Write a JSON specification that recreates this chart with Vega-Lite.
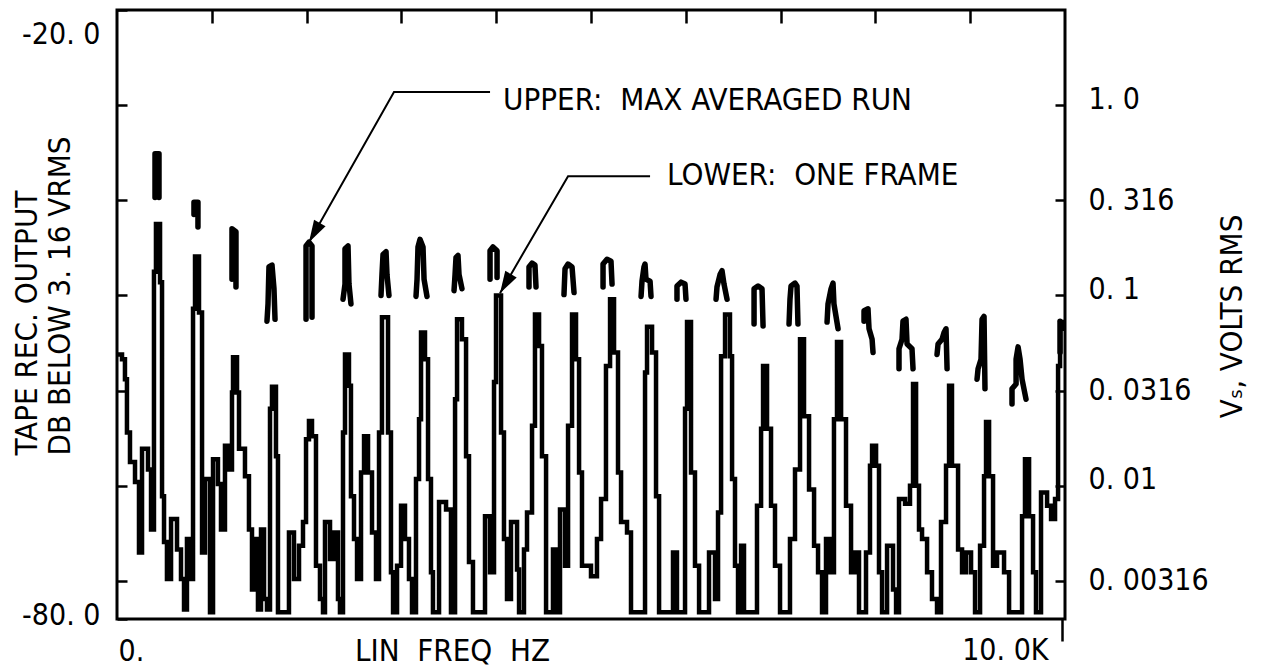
{
  "$schema": "https://vega.github.io/schema/vega-lite/v6.json",
  "width": 948,
  "height": 609,
  "autosize": {"type": "none"},
  "padding": {"left": 117, "top": 10, "right": 205, "bottom": 50},
  "background": "white",
  "config": {
    "font": "DejaVu Sans Condensed, DejaVu Sans",
    "view": {"stroke": "black", "strokeWidth": 3},
    "axis": {
      "labelFont": "DejaVu Sans Condensed, DejaVu Sans",
      "titleFont": "DejaVu Sans Condensed, DejaVu Sans",
      "labelFontSize": 30,
      "titleFontSize": 31,
      "titleFontWeight": "normal",
      "labelColor": "black",
      "titleColor": "black",
      "tickColor": "black",
      "grid": false,
      "domain": false,
      "labelFlush": false,
      "labelOverlap": false,
      "labelBound": false
    }
  },
  "datasets": {
    "oneFrame": [
      {"f": 0, "db": -26.2}, {"f": 53, "db": -26.7}, {"f": 84, "db": -28.8}, {"f": 105, "db": -34.4},
      {"f": 137, "db": -37.5}, {"f": 190, "db": -39.6}, {"f": 232, "db": -47.0}, {"f": 264, "db": -36.1},
      {"f": 327, "db": -38.3}, {"f": 359, "db": -44.6}, {"f": 390, "db": -17.5}, {"f": 411, "db": -12.5},
      {"f": 454, "db": -18.6}, {"f": 475, "db": -41.1}, {"f": 496, "db": -45.9}, {"f": 527, "db": -49.8},
      {"f": 570, "db": -43.5}, {"f": 633, "db": -46.7}, {"f": 675, "db": -49.8}, {"f": 707, "db": -53.0},
      {"f": 738, "db": -45.6}, {"f": 781, "db": -49.8}, {"f": 802, "db": -21.4}, {"f": 823, "db": -15.9},
      {"f": 865, "db": -21.8}, {"f": 897, "db": -47.0}, {"f": 928, "db": -39.3}, {"f": 981, "db": -53.3},
      {"f": 1013, "db": -37.2}, {"f": 1065, "db": -39.8}, {"f": 1097, "db": -44.6}, {"f": 1139, "db": -35.8},
      {"f": 1181, "db": -38.3}, {"f": 1213, "db": -30.2}, {"f": 1224, "db": -26.5}, {"f": 1266, "db": -30.2},
      {"f": 1287, "db": -36.1}, {"f": 1350, "db": -39.0}, {"f": 1392, "db": -44.6}, {"f": 1424, "db": -50.9},
      {"f": 1456, "db": -45.6}, {"f": 1487, "db": -53.0}, {"f": 1519, "db": -44.6}, {"f": 1551, "db": -51.9},
      {"f": 1582, "db": -53.0}, {"f": 1614, "db": -31.9}, {"f": 1635, "db": -29.6}, {"f": 1677, "db": -36.9},
      {"f": 1698, "db": -53.3}, {"f": 1814, "db": -44.9}, {"f": 1867, "db": -49.8}, {"f": 1920, "db": -46.3},
      {"f": 1962, "db": -43.8}, {"f": 1994, "db": -35.1}, {"f": 2025, "db": -33.2}, {"f": 2057, "db": -34.8},
      {"f": 2099, "db": -48.4}, {"f": 2141, "db": -51.9}, {"f": 2173, "db": -53.3}, {"f": 2194, "db": -43.8},
      {"f": 2247, "db": -47.7}, {"f": 2289, "db": -44.9}, {"f": 2331, "db": -51.9}, {"f": 2352, "db": -53.3},
      {"f": 2384, "db": -34.4}, {"f": 2405, "db": -26.2}, {"f": 2447, "db": -29.5}, {"f": 2468, "db": -41.1},
      {"f": 2500, "db": -45.6}, {"f": 2532, "db": -49.8}, {"f": 2574, "db": -38.6}, {"f": 2606, "db": -34.8},
      {"f": 2648, "db": -38.6}, {"f": 2690, "db": -44.9}, {"f": 2732, "db": -49.8}, {"f": 2764, "db": -34.4},
      {"f": 2795, "db": -22.3}, {"f": 2859, "db": -34.4}, {"f": 2890, "db": -49.1}, {"f": 2912, "db": -53.3},
      {"f": 2954, "db": -48.4}, {"f": 2996, "db": -42.1}, {"f": 3038, "db": -45.6}, {"f": 3080, "db": -49.8},
      {"f": 3112, "db": -53.3}, {"f": 3154, "db": -39.3}, {"f": 3186, "db": -33.0}, {"f": 3207, "db": -23.9},
      {"f": 3249, "db": -26.7}, {"f": 3281, "db": -39.3}, {"f": 3312, "db": -49.1}, {"f": 3333, "db": -53.3},
      {"f": 3397, "db": -41.7}, {"f": 3471, "db": -42.5}, {"f": 3523, "db": -53.3}, {"f": 3566, "db": -30.9},
      {"f": 3587, "db": -22.5}, {"f": 3639, "db": -24.6}, {"f": 3682, "db": -36.9}, {"f": 3713, "db": -48.0},
      {"f": 3755, "db": -53.3}, {"f": 3882, "db": -43.2}, {"f": 3935, "db": -49.1}, {"f": 3977, "db": -29.1},
      {"f": 3998, "db": -20.0}, {"f": 4051, "db": -34.4}, {"f": 4082, "db": -45.6}, {"f": 4114, "db": -51.9},
      {"f": 4156, "db": -43.8}, {"f": 4220, "db": -48.8}, {"f": 4241, "db": -53.3}, {"f": 4293, "db": -46.7},
      {"f": 4325, "db": -42.8}, {"f": 4378, "db": -33.7}, {"f": 4409, "db": -22.0}, {"f": 4452, "db": -25.3},
      {"f": 4483, "db": -36.9}, {"f": 4526, "db": -53.3}, {"f": 4599, "db": -46.7}, {"f": 4631, "db": -53.3},
      {"f": 4673, "db": -42.5}, {"f": 4726, "db": -48.4}, {"f": 4758, "db": -33.7}, {"f": 4800, "db": -22.0},
      {"f": 4842, "db": -26.7}, {"f": 4874, "db": -38.6}, {"f": 4905, "db": -48.4}, {"f": 5000, "db": -49.5},
      {"f": 5063, "db": -45.6}, {"f": 5106, "db": -41.4}, {"f": 5158, "db": -27.4}, {"f": 5201, "db": -20.4},
      {"f": 5243, "db": -26.0}, {"f": 5285, "db": -38.6}, {"f": 5317, "db": -43.8}, {"f": 5380, "db": -44.9},
      {"f": 5422, "db": -53.3}, {"f": 5570, "db": -28.1}, {"f": 5591, "db": -23.3}, {"f": 5644, "db": -26.0},
      {"f": 5686, "db": -41.1}, {"f": 5718, "db": -53.3}, {"f": 5865, "db": -47.0}, {"f": 5907, "db": -53.3},
      {"f": 5992, "db": -31.9}, {"f": 6013, "db": -22.8}, {"f": 6055, "db": -38.6}, {"f": 6097, "db": -48.4},
      {"f": 6140, "db": -53.3}, {"f": 6245, "db": -47.0}, {"f": 6308, "db": -51.9}, {"f": 6340, "db": -42.8},
      {"f": 6372, "db": -26.4}, {"f": 6414, "db": -22.0}, {"f": 6466, "db": -26.4}, {"f": 6488, "db": -39.3},
      {"f": 6519, "db": -48.4}, {"f": 6551, "db": -53.3}, {"f": 6583, "db": -46.3}, {"f": 6614, "db": -53.3},
      {"f": 6751, "db": -42.1}, {"f": 6794, "db": -34.0}, {"f": 6815, "db": -27.4}, {"f": 6857, "db": -34.0},
      {"f": 6899, "db": -42.1}, {"f": 6941, "db": -48.4}, {"f": 6994, "db": -53.3}, {"f": 7099, "db": -45.6},
      {"f": 7152, "db": -38.3}, {"f": 7205, "db": -24.6}, {"f": 7247, "db": -32.7}, {"f": 7300, "db": -40.4},
      {"f": 7353, "db": -46.3}, {"f": 7395, "db": -49.1}, {"f": 7437, "db": -53.3}, {"f": 7479, "db": -45.6},
      {"f": 7521, "db": -49.1}, {"f": 7563, "db": -33.0}, {"f": 7595, "db": -24.9}, {"f": 7638, "db": -33.0},
      {"f": 7690, "db": -42.1}, {"f": 7743, "db": -49.1}, {"f": 7785, "db": -47.0}, {"f": 7827, "db": -53.3},
      {"f": 7901, "db": -47.0}, {"f": 7943, "db": -37.9}, {"f": 7965, "db": -35.8}, {"f": 8007, "db": -37.9},
      {"f": 8038, "db": -49.1}, {"f": 8070, "db": -53.3}, {"f": 8123, "db": -46.3}, {"f": 8186, "db": -50.9},
      {"f": 8218, "db": -53.3}, {"f": 8249, "db": -41.4}, {"f": 8313, "db": -41.9}, {"f": 8365, "db": -40.0},
      {"f": 8397, "db": -29.3}, {"f": 8429, "db": -40.0}, {"f": 8460, "db": -44.6}, {"f": 8492, "db": -45.6},
      {"f": 8545, "db": -49.1}, {"f": 8597, "db": -51.9}, {"f": 8650, "db": -53.3}, {"f": 8692, "db": -43.8},
      {"f": 8745, "db": -37.9}, {"f": 8777, "db": -29.5}, {"f": 8808, "db": -37.9}, {"f": 8872, "db": -46.7},
      {"f": 8914, "db": -49.1}, {"f": 8956, "db": -47.0}, {"f": 9009, "db": -49.1}, {"f": 9051, "db": -53.3},
      {"f": 9104, "db": -46.3}, {"f": 9146, "db": -39.0}, {"f": 9167, "db": -33.3}, {"f": 9199, "db": -39.0},
      {"f": 9241, "db": -48.4}, {"f": 9283, "db": -47.0}, {"f": 9357, "db": -49.1}, {"f": 9410, "db": -53.3},
      {"f": 9547, "db": -43.2}, {"f": 9578, "db": -37.2}, {"f": 9621, "db": -43.2}, {"f": 9663, "db": -49.1},
      {"f": 9694, "db": -53.3}, {"f": 9747, "db": -40.7}, {"f": 9811, "db": -42.1}, {"f": 9853, "db": -43.5},
      {"f": 9895, "db": -41.4}, {"f": 9927, "db": -27.4}, {"f": 9948, "db": -22.8}, {"f": 9979, "db": -23.5},
      {"f": 10000, "db": -23.5}
    ],
    "maxAveraged": [
      {"seg": 1, "i": 0, "f": 401, "db": -9.7}, {"seg": 1, "i": 1, "f": 401, "db": -5.1}, {"seg": 1, "i": 2, "f": 443, "db": -5.1}, {"seg": 1, "i": 3, "f": 443, "db": -9.7},
      {"seg": 2, "i": 0, "f": 812, "db": -11.5}, {"seg": 2, "i": 1, "f": 812, "db": -10.2}, {"seg": 2, "i": 2, "f": 854, "db": -10.2}, {"seg": 2, "i": 3, "f": 854, "db": -12.8},
      {"seg": 3, "i": 0, "f": 1213, "db": -18.3}, {"seg": 3, "i": 1, "f": 1213, "db": -13.0}, {"seg": 3, "i": 2, "f": 1255, "db": -13.3}, {"seg": 3, "i": 3, "f": 1255, "db": -19.1},
      {"seg": 4, "i": 0, "f": 1582, "db": -22.7}, {"seg": 4, "i": 1, "f": 1593, "db": -20.9}, {"seg": 4, "i": 2, "f": 1603, "db": -17.0}, {"seg": 4, "i": 3, "f": 1635, "db": -16.8}, {"seg": 4, "i": 4, "f": 1656, "db": -19.3}, {"seg": 4, "i": 5, "f": 1667, "db": -22.5},
      {"seg": 5, "i": 0, "f": 1994, "db": -22.5}, {"seg": 5, "i": 1, "f": 1994, "db": -14.8}, {"seg": 5, "i": 2, "f": 2025, "db": -14.4}, {"seg": 5, "i": 3, "f": 2057, "db": -14.8}, {"seg": 5, "i": 4, "f": 2057, "db": -22.3},
      {"seg": 6, "i": 0, "f": 2384, "db": -20.4}, {"seg": 6, "i": 1, "f": 2405, "db": -18.8}, {"seg": 6, "i": 2, "f": 2405, "db": -15.1}, {"seg": 6, "i": 3, "f": 2437, "db": -14.8}, {"seg": 6, "i": 4, "f": 2447, "db": -18.8}, {"seg": 6, "i": 5, "f": 2468, "db": -20.9},
      {"seg": 7, "i": 0, "f": 2785, "db": -20.0}, {"seg": 7, "i": 1, "f": 2795, "db": -17.8}, {"seg": 7, "i": 2, "f": 2806, "db": -15.7}, {"seg": 7, "i": 3, "f": 2838, "db": -15.4}, {"seg": 7, "i": 4, "f": 2848, "db": -17.8}, {"seg": 7, "i": 5, "f": 2869, "db": -20.0},
      {"seg": 8, "i": 0, "f": 3154, "db": -20.1}, {"seg": 8, "i": 1, "f": 3165, "db": -18.3}, {"seg": 8, "i": 2, "f": 3175, "db": -14.9}, {"seg": 8, "i": 3, "f": 3196, "db": -14.1}, {"seg": 8, "i": 4, "f": 3228, "db": -14.9}, {"seg": 8, "i": 5, "f": 3239, "db": -18.3}, {"seg": 8, "i": 6, "f": 3270, "db": -20.1},
      {"seg": 9, "i": 0, "f": 3555, "db": -19.5}, {"seg": 9, "i": 1, "f": 3566, "db": -17.8}, {"seg": 9, "i": 2, "f": 3576, "db": -16.0}, {"seg": 9, "i": 3, "f": 3597, "db": -15.8}, {"seg": 9, "i": 4, "f": 3608, "db": -17.8}, {"seg": 9, "i": 5, "f": 3639, "db": -19.3},
      {"seg": 10, "i": 0, "f": 3935, "db": -18.3}, {"seg": 10, "i": 1, "f": 3935, "db": -15.3}, {"seg": 10, "i": 2, "f": 3966, "db": -14.9}, {"seg": 10, "i": 3, "f": 4009, "db": -15.3}, {"seg": 10, "i": 4, "f": 4009, "db": -18.1},
      {"seg": 11, "i": 0, "f": 4346, "db": -19.1}, {"seg": 11, "i": 1, "f": 4346, "db": -17.0}, {"seg": 11, "i": 2, "f": 4378, "db": -16.6}, {"seg": 11, "i": 3, "f": 4409, "db": -16.8}, {"seg": 11, "i": 4, "f": 4420, "db": -19.1},
      {"seg": 12, "i": 0, "f": 4715, "db": -19.9}, {"seg": 12, "i": 1, "f": 4726, "db": -17.2}, {"seg": 12, "i": 2, "f": 4758, "db": -16.7}, {"seg": 12, "i": 3, "f": 4800, "db": -17.0}, {"seg": 12, "i": 4, "f": 4821, "db": -19.7},
      {"seg": 13, "i": 0, "f": 5127, "db": -19.1}, {"seg": 13, "i": 1, "f": 5127, "db": -16.7}, {"seg": 13, "i": 2, "f": 5169, "db": -16.2}, {"seg": 13, "i": 3, "f": 5211, "db": -16.4}, {"seg": 13, "i": 4, "f": 5222, "db": -18.8},
      {"seg": 14, "i": 0, "f": 5528, "db": -20.1}, {"seg": 14, "i": 1, "f": 5538, "db": -18.5}, {"seg": 14, "i": 2, "f": 5559, "db": -17.0}, {"seg": 14, "i": 3, "f": 5570, "db": -16.7}, {"seg": 14, "i": 4, "f": 5580, "db": -18.3}, {"seg": 14, "i": 5, "f": 5623, "db": -18.5}, {"seg": 14, "i": 6, "f": 5633, "db": -20.1},
      {"seg": 15, "i": 0, "f": 5907, "db": -20.4}, {"seg": 15, "i": 1, "f": 5907, "db": -19.0}, {"seg": 15, "i": 2, "f": 5950, "db": -18.6}, {"seg": 15, "i": 3, "f": 5992, "db": -18.8}, {"seg": 15, "i": 4, "f": 6002, "db": -20.4},
      {"seg": 16, "i": 0, "f": 6319, "db": -20.4}, {"seg": 16, "i": 1, "f": 6329, "db": -19.1}, {"seg": 16, "i": 2, "f": 6361, "db": -17.8}, {"seg": 16, "i": 3, "f": 6382, "db": -17.4}, {"seg": 16, "i": 4, "f": 6403, "db": -18.8}, {"seg": 16, "i": 5, "f": 6435, "db": -20.4},
      {"seg": 17, "i": 0, "f": 6720, "db": -23.0}, {"seg": 17, "i": 1, "f": 6720, "db": -19.3}, {"seg": 17, "i": 2, "f": 6762, "db": -19.0}, {"seg": 17, "i": 3, "f": 6804, "db": -19.3}, {"seg": 17, "i": 4, "f": 6815, "db": -23.2},
      {"seg": 18, "i": 0, "f": 7089, "db": -23.0}, {"seg": 18, "i": 1, "f": 7099, "db": -20.4}, {"seg": 18, "i": 2, "f": 7110, "db": -19.0}, {"seg": 18, "i": 3, "f": 7152, "db": -18.7}, {"seg": 18, "i": 4, "f": 7173, "db": -19.0}, {"seg": 18, "i": 5, "f": 7183, "db": -23.0},
      {"seg": 19, "i": 0, "f": 7490, "db": -22.8}, {"seg": 19, "i": 1, "f": 7500, "db": -20.9}, {"seg": 19, "i": 2, "f": 7532, "db": -19.3}, {"seg": 19, "i": 3, "f": 7553, "db": -18.7}, {"seg": 19, "i": 4, "f": 7563, "db": -20.9}, {"seg": 19, "i": 5, "f": 7606, "db": -23.5},
      {"seg": 20, "i": 0, "f": 7880, "db": -22.7}, {"seg": 20, "i": 1, "f": 7880, "db": -21.6}, {"seg": 20, "i": 2, "f": 7922, "db": -21.4}, {"seg": 20, "i": 3, "f": 7933, "db": -23.5}, {"seg": 20, "i": 4, "f": 7965, "db": -24.6}, {"seg": 20, "i": 5, "f": 7975, "db": -26.0},
      {"seg": 21, "i": 0, "f": 8249, "db": -27.7}, {"seg": 21, "i": 1, "f": 8249, "db": -25.6}, {"seg": 21, "i": 2, "f": 8281, "db": -24.6}, {"seg": 21, "i": 3, "f": 8291, "db": -22.7}, {"seg": 21, "i": 4, "f": 8323, "db": -22.5}, {"seg": 21, "i": 5, "f": 8334, "db": -25.1}, {"seg": 21, "i": 6, "f": 8386, "db": -25.6}, {"seg": 21, "i": 7, "f": 8397, "db": -27.7},
      {"seg": 22, "i": 0, "f": 8650, "db": -26.2}, {"seg": 22, "i": 1, "f": 8661, "db": -25.1}, {"seg": 22, "i": 2, "f": 8703, "db": -24.6}, {"seg": 22, "i": 3, "f": 8724, "db": -23.9}, {"seg": 22, "i": 4, "f": 8745, "db": -23.5}, {"seg": 22, "i": 5, "f": 8756, "db": -27.7},
      {"seg": 23, "i": 0, "f": 9072, "db": -28.8}, {"seg": 23, "i": 1, "f": 9083, "db": -27.7}, {"seg": 23, "i": 2, "f": 9114, "db": -26.7}, {"seg": 23, "i": 3, "f": 9125, "db": -22.5}, {"seg": 23, "i": 4, "f": 9146, "db": -22.2}, {"seg": 23, "i": 5, "f": 9156, "db": -29.8},
      {"seg": 24, "i": 0, "f": 9441, "db": -31.4}, {"seg": 24, "i": 1, "f": 9441, "db": -29.8}, {"seg": 24, "i": 2, "f": 9484, "db": -29.3}, {"seg": 24, "i": 3, "f": 9484, "db": -26.7}, {"seg": 24, "i": 4, "f": 9505, "db": -25.4}, {"seg": 24, "i": 5, "f": 9526, "db": -26.7}, {"seg": 24, "i": 6, "f": 9547, "db": -28.8}, {"seg": 24, "i": 7, "f": 9589, "db": -30.9},
      {"seg": 25, "i": 0, "f": 9948, "db": -22.7}, {"seg": 25, "i": 1, "f": 9948, "db": -26.0}
    ],
    "leaders": [
      {"g": "upper", "i": 0, "f": 3935, "db": 1.37}, {"g": "upper", "i": 1, "f": 2922, "db": 1.37}, {"g": "upper", "i": 2, "f": 2025, "db": -14.4},
      {"g": "lower", "i": 0, "f": 5623, "db": -7.46}, {"g": "lower", "i": 1, "f": 4758, "db": -7.46}, {"g": "lower", "i": 2, "f": 4040, "db": -19.76}
    ],
    "arrowTips": [
      {"g": "upper", "f": 2025, "db": -14.4, "dir": 209.5},
      {"g": "lower", "f": 4040, "db": -19.76, "dir": 210}
    ],
    "notes": [
      {"t": "UPPER:\u00a0 MAX AVERAGED RUN", "f": 4072, "db": -0.53},
      {"t": "LOWER:\u00a0 ONE FRAME", "f": 5802, "db": -8.41}
    ]
  },
  "encoding": {
    "x": {"field": "f", "type": "quantitative", "scale": {"domain": [0, 10000], "nice": false, "zero": false}},
    "y": {"field": "db", "type": "quantitative", "scale": {"domain": [-54, 10], "nice": false, "zero": false}}
  },
  "layer": [
    {
      "data": {"name": "oneFrame"},
      "mark": {"type": "line", "interpolate": "step-after", "color": "black", "strokeWidth": 4.5, "strokeJoin": "miter"},
      "encoding": {
        "x": {
          "field": "f", "type": "quantitative",
          "axis": {
            "orient": "bottom",
            "values": [0, 10000],
            "ticks": true,
            "tickSize": {"condition": {"test": "datum.value == 10000", "value": 22}, "value": 0},
            "tickWidth": 2.5,
            "tickOffset": -3,
            "labelExpr": "datum.value == 0 ? '0.' : '10. 0K'",
            "labelAlign": {"condition": {"test": "datum.value == 0", "value": "left"}, "value": "right"},
            "labelOffset": {"condition": {"test": "datum.value == 0", "value": 4}, "value": -14},
            "labelPadding": {"condition": {"test": "datum.value == 10000", "value": 18}, "value": 41},
            "labelBaseline": "alphabetic",
            "title": "LIN\u00a0 FREQ\u00a0 HZ",
            "titleX": 335,
            "titleY": 41,
            "titleAlign": "center",
            "titleBaseline": "alphabetic"
          }
        },
        "y": {
          "field": "db", "type": "quantitative",
          "axis": {
            "orient": "left",
            "values": [10, 0, -10, -20, -30, -40, -50, -54],
            "tickSize": -10,
            "tickWidth": 2.5,
            "labelExpr": "datum.value == 10 ? '-20. 0' : datum.value == -54 ? '-80. 0' : ''",
            "labelPadding": 27,
            "labelAlign": "right",
            "labelBaseline": "middle",
            "labelOffset": {"condition": {"test": "datum.value == 10", "value": 24}, "value": -4},
            "title": ["TAPE REC. OUTPUT", "DB BELOW 3. 16 VRMS"],
            "titleAngle": 270,
            "titleX": -90,
            "titleY": 445,
            "titleAlign": "left",
            "titleBaseline": "middle",
            "titleLineHeight": 33
          }
        }
      }
    },
    {
      "data": {"name": "maxAveraged"},
      "mark": {"type": "line", "color": "black", "strokeWidth": 5.5, "strokeJoin": "round", "strokeCap": "round"},
      "encoding": {
        "x": {
          "field": "f", "type": "quantitative",
          "axis": {
            "orient": "top",
            "values": [1000, 2000, 3000, 4000, 5000, 6000, 7000, 8000, 9000],
            "labels": false,
            "tickSize": -13,
            "tickWidth": 2.5,
            "title": null
          }
        },
        "y": {
          "field": "db", "type": "quantitative",
          "axis": {
            "orient": "right",
            "values": [0, -10, -20, -30, -40, -50],
            "tickSize": -10,
            "tickWidth": 2.5,
            "labelExpr": "datum.value == 0 ? '1. 0' : datum.value == -10 ? '0. 316' : datum.value == -20 ? '0. 1' : datum.value == -30 ? '0. 0316' : datum.value == -40 ? '0. 01' : '0. 00316'",
            "labelPadding": 33,
            "labelAlign": "left",
            "labelBaseline": "middle",
            "labelOffset": {"condition": {"test": "datum.value == 0 || datum.value == -20 || datum.value == -40", "value": -6}, "value": 0},
            "title": "V\u209b, VOLTS RMS",
            "titleAngle": 270,
            "titleX": 167,
            "titleY": 306,
            "titleAlign": "center",
            "titleBaseline": "middle"
          }
        },
        "detail": {"field": "seg", "type": "nominal"},
        "order": {"field": "i", "type": "quantitative"}
      }
    },
    {
      "data": {"name": "leaders"},
      "mark": {"type": "line", "color": "black", "strokeWidth": 2},
      "encoding": {
        "x": {"field": "f", "type": "quantitative", "axis": null},
        "y": {"field": "db", "type": "quantitative", "axis": null},
        "detail": {"field": "g", "type": "nominal"},
        "order": {"field": "i", "type": "quantitative"}
      }
    },
    {
      "data": {"name": "arrowTips"},
      "mark": {"type": "point", "shape": "M0,0L-0.3,1L0.3,1Z", "filled": true, "color": "black", "opacity": 1, "size": 1936},
      "encoding": {
        "x": {"field": "f", "type": "quantitative", "axis": null},
        "y": {"field": "db", "type": "quantitative", "axis": null},
        "angle": {"field": "dir", "type": "quantitative", "scale": null}
      }
    },
    {
      "data": {"name": "notes"},
      "mark": {"type": "text", "align": "left", "baseline": "alphabetic", "fontSize": 31, "color": "black"},
      "encoding": {
        "x": {"field": "f", "type": "quantitative", "axis": null},
        "y": {"field": "db", "type": "quantitative", "axis": null},
        "text": {"field": "t", "type": "nominal"}
      }
    }
  ],
  "resolve": {"axis": {"x": "independent", "y": "independent"}}
}
